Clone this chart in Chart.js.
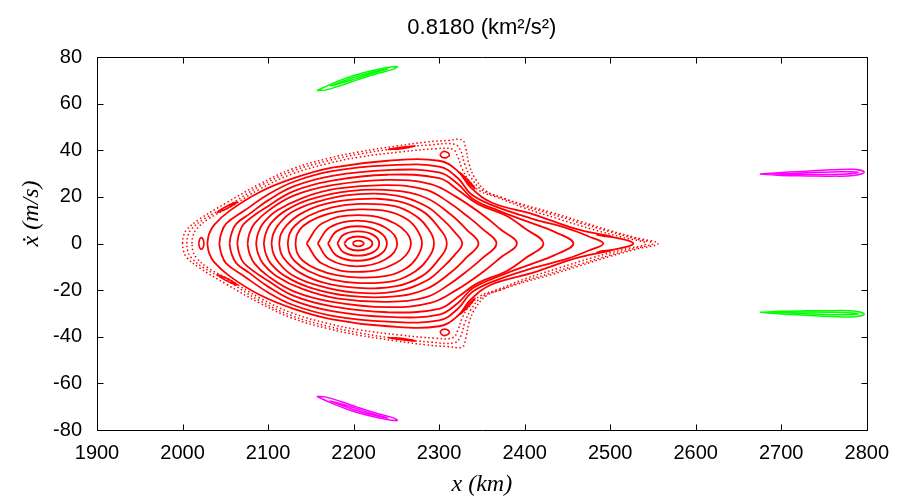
<!DOCTYPE html>
<html>
<head>
<meta charset="utf-8">
<script src="https://cdn.jsdelivr.net/npm/chart.js@4.4.1/dist/chart.umd.min.js"></script>
<style>
  html, body { margin: 0; padding: 0; background: #fff; }
</style>
</head>
<body>
<canvas id="c" width="900" height="497"></canvas>
<script>
// text
const titleText = '0.8180 (km\u00b2/s\u00b2)';
const xLabel = 'x (km)';
const yLabel = '\u1e8b (m/s)';

// tick values
const xTickValues = [1900, 2000, 2100, 2200, 2300, 2400, 2500, 2600, 2700, 2800];
const yTickValues = [-80, -60, -40, -20, 0, 20, 40, 60, 80];

// red invariant curves around the centre, inner to outer ([x km, xdot m/s])
const redRings = [
  [[2199,0],[2201,0.85],[2205.5,1.2],[2210,0.85],[2212,0],[2210,-0.85],[2205.5,-1.2],[2201,-0.85],[2199,0]],
  [[2189,0],[2194,2.1],[2205,3],[2217,2.1],[2222,0],[2217,-2.1],[2205,-3],[2194,-2.1],[2189,0]],
  [[2181,0],[2188,3.7],[2205,5.2],[2223,3.7],[2230,0],[2223,-3.7],[2205,-5.2],[2188,-3.7],[2181,0]],
  [[2170,0],[2180,5.2],[2204,7.4],[2229,5.2],[2239,0],[2229,-5.2],[2204,-7.4],[2180,-5.2],[2170,0]],
  [[2158,0],[2172,6.9],[2204,9.8],[2237,6.9],[2251,0],[2237,-6.9],[2204,-9.8],[2172,-6.9],[2158,0]],
  [[2145,0],[2163,8.6],[2205,12.2],[2249,8.5],[2267,0],[2249,-8.5],[2205,-12.2],[2163,-8.6],[2145,0]],
  [[2132,0],[2134,4],[2141,7.5],[2157,11],[2180,13.6],[2207,14.6],[2240,13.8],[2262,10.5],[2274,6],[2280,0],
   [2274,-6],[2262,-10.5],[2240,-13.8],[2207,-14.6],[2180,-13.6],[2157,-11],[2141,-7.5],[2134,-4],[2132,0]],
  [[2123,0],[2125,4],[2131,7.5],[2147,11.8],[2175,15.5],[2207,17],[2248,16],[2272,12],[2286,7],[2294,0],
   [2286,-7],[2272,-12],[2248,-16],[2207,-17],[2175,-15.5],[2147,-11.8],[2131,-7.5],[2125,-4],[2123,0]],
  [[2113,0],[2115,4],[2121,7.5],[2137,12.5],[2165,16.8],[2205,19],[2250,18.3],[2280,14],[2297,8],[2309,0],
   [2297,-8],[2280,-14],[2250,-18.3],[2205,-19],[2165,-16.8],[2137,-12.5],[2121,-7.5],[2115,-4],[2113,0]],
  [[2104,0],[2106,4],[2112,8],[2128,13.5],[2158,18],[2200,21],[2250,20.5],[2285,16],[2305,10],[2318,5],[2327,0],
   [2318,-5],[2305,-10],[2285,-16],[2250,-20.5],[2200,-21],[2158,-18],[2128,-13.5],[2112,-8],[2106,-4],[2104,0]],
  [[2095,0],[2097,4],[2103,8.5],[2120,14],[2150,19],[2195,22.5],[2245,22.8],[2285,19.5],[2315,12],[2332,6],[2346,0],
   [2332,-6],[2315,-12],[2285,-19.5],[2245,-22.8],[2195,-22.5],[2150,-19],[2120,-14],[2103,-8.5],[2097,-4],[2095,0]],
  [[2086,0],[2088,4],[2094,8.5],[2110,14],[2140,19.5],[2180,23.5],[2240,25],[2285,23],[2312,17.5],[2332,12],[2350,6.5],[2367,0],
   [2350,-6.5],[2332,-12],[2312,-17.5],[2285,-23],[2240,-25],[2180,-23.5],[2140,-19.5],[2110,-14],[2094,-8.5],[2088,-4],[2086,0]],
  [[2076,0],[2078,4],[2084,8.5],[2100,14],[2130,20.5],[2175,25],[2240,27.3],[2290,25.5],[2320,20],[2352,12],[2372,6],[2391,0],
   [2372,-6],[2352,-12],[2320,-20],[2290,-25.5],[2240,-27.3],[2175,-25],[2130,-20.5],[2100,-14],[2084,-8.5],[2078,-4],[2076,0]],
  [[2064,0],[2066,4],[2072,8.5],[2100,16],[2130,22.5],[2175,27],[2240,29.5],[2300,28],[2322,23],[2345,17],[2378,12],[2400,6.5],[2422,0],
   [2400,-6.5],[2378,-12],[2345,-17],[2322,-23],[2300,-28],[2240,-29.5],[2175,-27],[2130,-22.5],[2100,-16],[2072,-8.5],[2066,-4],[2064,0]],
  [[2055,0],[2057,4],[2063,8.5],[2078,12.6],[2100,18.5],[2130,24.5],[2175,29],[2240,31.5],[2300,30.5],[2322,25.5],[2340,19],[2370,14],[2410,8.5],[2435,5],[2457,0],
   [2435,-5],[2410,-8.5],[2370,-14],[2340,-19],[2322,-25.5],[2300,-30.5],[2240,-31.5],[2175,-29],[2130,-24.5],[2100,-18.5],[2078,-12.6],[2063,-8.5],[2057,-4],[2055,0]],
  [[2043,0],[2045,4],[2051,8.5],[2072,14],[2100,21],[2130,26.5],[2175,31],[2240,33.5],[2300,33],[2322,28],[2338,21],[2365,16],[2410,10.5],[2450,6.5],[2475,3],[2492,0],
   [2475,-3],[2450,-6.5],[2410,-10.5],[2365,-16],[2338,-21],[2322,-28],[2300,-33],[2240,-33.5],[2175,-31],[2130,-26.5],[2100,-21],[2072,-14],[2051,-8.5],[2045,-4],[2043,0]],
  [[2029,0],[2031,4],[2037,8],[2055,14],[2090,22],[2130,28],[2175,32.5],[2240,35.5],[2300,35.5],[2322,31],[2337,24],[2362,17.5],[2410,12.5],[2460,6.3],[2500,3],[2527,0],
   [2500,-3],[2460,-6.3],[2410,-12.5],[2362,-17.5],[2337,-24],[2322,-31],[2300,-35.5],[2240,-35.5],[2175,-32.5],[2130,-28],[2090,-22],[2055,-14],[2037,-8],[2031,-4],[2029,0]]
];

// red chaotic layer at the edge (dotted)
const redChaos = [
  [[2000,0],[2001,3],[2005,6],[2020,10.5],[2051,17.4],[2090,25.5],[2128,32],[2170,36.5],[2206,39.3],[2250,41.8],[2285,43.5],[2310,44.2],[2327,44.4],[2331,41],[2335,34],[2342,28],[2355,22.5],[2375,19.5],[2400,16.5],[2430,13.5],[2465,9.5],[2500,5.5],[2530,2.5],[2556,0],
   [2530,-2.5],[2500,-5.5],[2465,-9.5],[2430,-13.5],[2400,-16.5],[2375,-19.5],[2355,-22.5],[2342,-28],[2335,-34],[2331,-41],[2327,-44.4],[2310,-44.2],[2285,-43.5],[2250,-41.8],[2206,-39.3],[2170,-36.5],[2128,-32],[2090,-25.5],[2051,-17.4],[2020,-10.5],[2005,-6],[2001,-3],[2000,0]],
  [[2005,0],[2006,3],[2010,6],[2025,10.5],[2055,16.6],[2090,24.5],[2128,31],[2170,35.5],[2206,38.3],[2250,40.8],[2290,42.3],[2318,42.6],[2325,40],[2330,34],[2337,28.5],[2350,23],[2372,19.8],[2400,16],[2430,12.8],[2465,8.8],[2500,5],[2530,2],[2550,0],
   [2530,-2],[2500,-5],[2465,-8.8],[2430,-12.8],[2400,-16],[2372,-19.8],[2350,-23],[2337,-28.5],[2330,-34],[2325,-40],[2318,-42.6],[2290,-42.3],[2250,-40.8],[2206,-38.3],[2170,-35.5],[2128,-31],[2090,-24.5],[2055,-16.6],[2025,-10.5],[2010,-6],[2006,-3],[2005,0]],
  [[2011,0],[2012,3],[2016,6],[2030,10.5],[2055,15.5],[2090,23.3],[2128,29.8],[2170,34.3],[2206,37],[2255,39.3],[2295,40.6],[2316,40.4],[2322,37],[2327,32],[2335,27],[2348,22.5],[2368,19.8],[2400,15.2],[2440,10.5],[2480,6],[2515,2.6],[2542,0],
   [2515,-2.6],[2480,-6],[2440,-10.5],[2400,-15.2],[2368,-19.8],[2348,-22.5],[2335,-27],[2327,-32],[2322,-37],[2316,-40.4],[2295,-40.6],[2255,-39.3],[2206,-37],[2170,-34.3],[2128,-29.8],[2090,-23.3],[2055,-15.5],[2030,-10.5],[2016,-6],[2012,-3],[2011,0]]
];

// small red island chains
const redIslands = [
  [[2019,0],[2020,1.8],[2022,2.5],[2024,1.8],[2025,0],[2024,-1.8],[2022,-2.5],[2020,-1.8],[2019,0]],
  [[2040,13.2],[2050,15.7],[2064,17.8],[2052,15.0],[2040,13.2]],
  [[2040,-13.2],[2050,-15.7],[2064,-17.8],[2052,-15.0],[2040,-13.2]],
  [[2240,40.3],[2256,41.3],[2272,41.8],[2256,40.7],[2240,40.3]],
  [[2240,-40.3],[2256,-41.3],[2272,-41.8],[2256,-40.7],[2240,-40.3]],
  [[2301,38],[2304,39.3],[2308,39.4],[2312,38.2],[2309,36.9],[2304,36.9],[2301,38]],
  [[2301,-38],[2304,-39.3],[2308,-39.4],[2312,-38.2],[2309,-36.9],[2304,-36.9],[2301,-38]],
  [[2324,30.5],[2333,27.5],[2342,23.5],[2332,26.8],[2324,30.5]],
  [[2324,-30.5],[2333,-27.5],[2342,-23.5],[2332,-26.8],[2324,-30.5]],
  [[2484,3.8],[2492,3.6],[2502,3.0],[2492,3.1],[2484,3.8]],
  [[2484,-3.8],[2492,-3.6],[2502,-3.0],[2492,-3.1],[2484,-3.8]]
];

// green islands (outer and inner loop each)
const greenLoops = [
  [[2157,65.6],[2175,68.6],[2195,71.4],[2215,73.6],[2235,75.2],[2251,75.9],[2245,74.6],[2225,72.6],[2205,70.3],[2185,67.8],[2168,65.9],[2157,65.6]],
  [[2172,67.5],[2195,70.6],[2220,73.4],[2240,74.9],[2220,72.8],[2195,69.8],[2172,67.5]],
  [[2675,-29.5],[2700,-29.1],[2730,-28.9],[2760,-28.8],[2785,-29.0],[2797,-30.3],[2785,-31.4],[2760,-31.3],[2730,-30.8],[2700,-30.2],[2675,-29.5]],
  [[2690,-29.6],[2730,-29.4],[2770,-29.6],[2790,-30.1],[2770,-30.6],[2730,-30.1],[2690,-29.6]]
];

// magenta islands (outer and inner loop each)
const magentaLoops = [
  [[2157,-65.6],[2175,-68.6],[2195,-71.4],[2215,-73.6],[2235,-75.2],[2251,-75.9],[2245,-74.6],[2225,-72.6],[2205,-70.3],[2185,-67.8],[2168,-65.9],[2157,-65.6]],
  [[2172,-67.5],[2195,-70.6],[2220,-73.4],[2240,-74.9],[2220,-72.8],[2195,-69.8],[2172,-67.5]],
  [[2675,29.8],[2700,30.5],[2730,31.0],[2760,31.6],[2785,31.8],[2797,30.6],[2785,29.2],[2760,28.9],[2730,29.0],[2700,29.2],[2675,29.8]],
  [[2690,29.8],[2730,30.3],[2770,30.8],[2790,30.5],[2770,29.7],[2730,29.6],[2690,29.8]]
];

function loopSet(loop, color, width, dash) {
  return {
    data: loop.map(p => ({ x: p[0], y: p[1] })),
    showLine: true,
    borderColor: color,
    borderWidth: width,
    borderDash: dash || [],
    pointRadius: 0,
    tension: 0.4,
    fill: false
  };
}

const datasets = [];
redChaos.forEach(l => datasets.push(loopSet(l, '#ff0000', 1.5, [1.5, 2.5])));
redRings.forEach(l => datasets.push(loopSet(l, '#ff0000', 1.8)));
redIslands.forEach(l => datasets.push(loopSet(l, '#ff0000', 1.6)));
greenLoops.forEach(l => datasets.push(loopSet(l, '#00ff00', 1.5)));
magentaLoops.forEach(l => datasets.push(loopSet(l, '#ff00ff', 1.5)));

// box round the plot with ticks pointing inwards on all four sides
const framePlugin = {
  id: 'frame',
  afterDatasetsDraw(chart) {
    const { ctx, chartArea: a, scales: { x, y } } = chart;
    const L = Math.round(a.left) + 0.5, R = Math.round(a.right) + 0.5;
    const T = Math.round(a.top) + 0.5, B = Math.round(a.bottom) + 0.5;
    const len = 6;
    ctx.save();
    ctx.strokeStyle = '#000';
    ctx.lineWidth = 1;
    ctx.beginPath();
    ctx.rect(L, T, R - L, B - T);
    x.ticks.forEach(t => {
      const px = Math.round(x.getPixelForValue(t.value)) + 0.5;
      ctx.moveTo(px, B); ctx.lineTo(px, B - len);
      ctx.moveTo(px, T); ctx.lineTo(px, T + len);
    });
    y.ticks.forEach(t => {
      const py = Math.round(y.getPixelForValue(t.value)) + 0.5;
      ctx.moveTo(L, py); ctx.lineTo(L + len, py);
      ctx.moveTo(R, py); ctx.lineTo(R - len, py);
    });
    ctx.stroke();
    ctx.restore();
  }
};

// y axis title, set a little above the middle like the original
const yLabelPlugin = {
  id: 'ylabel',
  afterDraw(chart) {
    const { ctx, chartArea: a } = chart;
    ctx.save();
    ctx.translate(32, (a.top + a.bottom) / 2 - 30);
    ctx.rotate(-Math.PI / 2);
    ctx.font = 'italic 24px "Liberation Serif"';
    ctx.fillStyle = '#000';
    ctx.textAlign = 'center';
    ctx.textBaseline = 'middle';
    ctx.fillText(yLabel, 0, 0);
    ctx.restore();
  }
};

Chart.defaults.font.family = '"Liberation Sans", Arial, sans-serif';
Chart.defaults.color = '#000';

new Chart(document.getElementById('c'), {
  type: 'scatter',
  data: { datasets },
  options: {
    responsive: false,
    animation: false,
    devicePixelRatio: 1,
    layout: { padding: { left: 0, right: 31, top: 0, bottom: 0 } },
    plugins: {
      legend: { display: false },
      tooltip: { enabled: false },
      title: {
        display: true,
        text: titleText,
        fullSize: false,
        color: '#000',
        font: { size: 22, weight: 'normal', lineHeight: 1 },
        padding: { top: 17, bottom: 18 }
      }
    },
    scales: {
      x: {
        type: 'linear',
        min: 1900,
        max: 2800,
        grid: { display: false, drawTicks: false },
        border: { display: false },
        ticks: { color: '#000', font: { size: 20 }, padding: 11, maxRotation: 0, autoSkip: false,
                 callback: v => String(v) },
        afterBuildTicks: s => { s.ticks = xTickValues.map(v => ({ value: v })); },
        afterFit: s => { s.height = 67; },
        title: {
          display: true,
          text: xLabel,
          color: '#000',
          font: { family: '"Liberation Serif", serif', style: 'italic', size: 24, lineHeight: 1 },
          padding: { top: 0, bottom: 0 }
        }
      },
      y: {
        type: 'linear',
        min: -80,
        max: 80,
        grid: { display: false, drawTicks: false },
        border: { display: false },
        ticks: { color: '#000', font: { size: 20 }, padding: 15, autoSkip: false,
                 callback: v => String(v) },
        afterBuildTicks: s => { s.ticks = yTickValues.map(v => ({ value: v })); },
        afterFit: s => { s.width = 97; }
      }
    }
  },
  plugins: [framePlugin, yLabelPlugin]
});
</script>
</body>
</html>
